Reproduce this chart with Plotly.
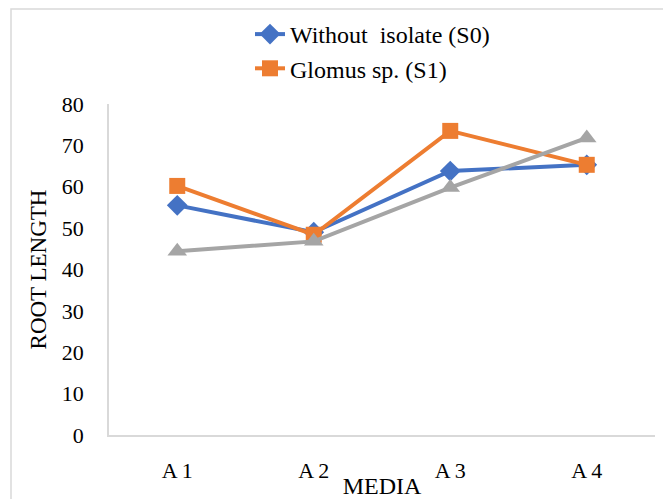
import plotly.graph_objects as go

categories = ["A 1", "A 2", "A 3", "A 4"]
s0_values = [55.5, 49.0, 63.8, 65.3]
s1_values = [60.2, 48.4, 73.5, 65.3]
s2_values = [44.4, 46.8, 59.8, 71.8]
series_names = ["Without  isolate (S0)", "Glomus sp. (S1)", "S2"]
y_ticks = [0, 10, 20, 30, 40, 50, 60, 70, 80]

W, H = 663, 499
L, R, T, B = 109, 8, 104, 64
pw, ph = W - L - R, H - T - B

fig = go.Figure()
fig.add_trace(go.Scatter(x=categories, y=s0_values, name=series_names[0], mode="lines+markers",
                         line=dict(color="#4472C4", width=4),
                         marker=dict(symbol="diamond", size=16, color="#4472C4")))
fig.add_trace(go.Scatter(x=categories, y=s1_values, name=series_names[1], mode="lines+markers",
                         line=dict(color="#ED7D31", width=4),
                         marker=dict(symbol="square", size=16, color="#ED7D31")))
fig.add_trace(go.Scatter(x=categories, y=s2_values, name=series_names[2], mode="lines+markers",
                         line=dict(color="#A5A5A5", width=4), showlegend=False,
                         marker=dict(symbol="triangle-up", size=17, color="#A5A5A5")))

serif = "Liberation Serif, Times New Roman, serif"
fig.update_layout(
    width=W, height=H,
    margin=dict(l=L, r=R, t=T, b=B, autoexpand=False),
    paper_bgcolor="white", plot_bgcolor="white",
    font=dict(family=serif, color="#000000", size=22),
    showlegend=True,
    legend=dict(x=(250 - L) / pw, y=1 + (T - 12) / ph, xanchor="left", yanchor="top",
                font=dict(size=24, family=serif), bgcolor="rgba(0,0,0,0)",
                tracegroupgap=0, itemwidth=30),
    xaxis=dict(type="category", range=[-0.5, 3.5], showline=True, linecolor="#D9D9D9",
               linewidth=1.5, showgrid=False, zeroline=False, ticks="",
               tickfont=dict(size=22, family=serif), ticklabelstandoff=15,
               title=dict(text="MEDIA", font=dict(size=24, family=serif), standoff=1)),
    yaxis=dict(range=[0, 80], tickvals=y_ticks, showline=True, linecolor="#D9D9D9",
               linewidth=1.5, showgrid=False, zeroline=False, ticks="",
               tickfont=dict(size=22, family=serif), ticklabelstandoff=19,
               title=dict(text="ROOT LENGTH", font=dict(size=23, family=serif), standoff=9)),
    shapes=[dict(type="rect", xref="paper", yref="paper",
                 x0=(11 - L) / pw, x1=1.2, y0=-0.5, y1=(H - B - 9) / ph,
                 line=dict(color="#D9D9D9", width=1.5), fillcolor="rgba(0,0,0,0)", layer="below")],
)

fig.write_html("out.html", config={"displayModeBar": False},
               post_script="document.body.style.margin='0';document.body.style.overflow='hidden';")
